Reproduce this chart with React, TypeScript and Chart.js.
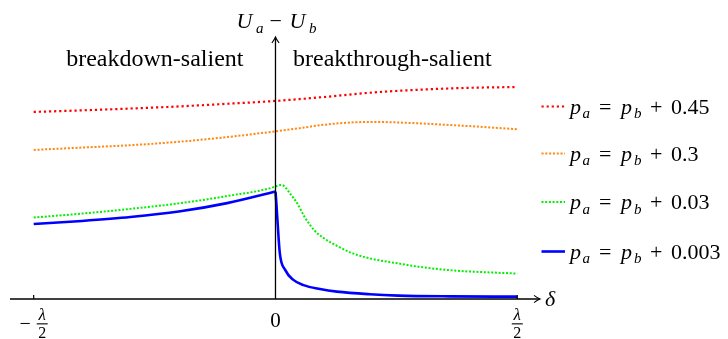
import React, { useEffect, useRef } from "react";
import { Chart, registerables } from "chart.js";

Chart.register(...registerables);

// ---- data (x in units of λ, y in arbitrary units of U_a − U_b) ----
const redX = [-0.5, -0.4, -0.3, -0.2, -0.1, 0, 0.1, 0.2, 0.3, 0.4, 0.5];
const redY = [0.714, 0.72, 0.727, 0.735, 0.745, 0.756, 0.771, 0.788, 0.799, 0.806, 0.809];

const orangeX = [-0.5, -0.4, -0.3, -0.2, -0.1, 0, 0.05, 0.1, 0.15, 0.2, 0.25, 0.3, 0.35, 0.4, 0.45, 0.5];
const orangeY = [0.569, 0.578, 0.587, 0.6, 0.618, 0.64, 0.652, 0.665, 0.673, 0.676, 0.674, 0.67, 0.665, 0.66, 0.654, 0.648];

const greenX = [-0.5, -0.4, -0.3, -0.2, -0.1, 0, 0.006, 0.013, 0.02, 0.03, 0.045, 0.06, 0.08, 0.1, 0.13, 0.16, 0.2, 0.25, 0.3, 0.375, 0.45, 0.5];
const greenY = [0.311, 0.326, 0.344, 0.365, 0.393, 0.429, 0.434, 0.435, 0.427, 0.403, 0.365, 0.314, 0.263, 0.232, 0.2, 0.174, 0.153, 0.137, 0.122, 0.108, 0.101, 0.097];

const blueLeftX = [-0.5, -0.4, -0.3, -0.2, -0.1, 0];
const blueLeftY = [0.286, 0.298, 0.313, 0.334, 0.366, 0.41];
const blueRightX = [0, 0.002, 0.004, 0.009, 0.02, 0.037, 0.058, 0.092, 0.127, 0.195, 0.254, 0.36, 0.5];
const blueRightY = [0.41, 0.36, 0.302, 0.174, 0.111, 0.073, 0.053, 0.038, 0.028, 0.018, 0.013, 0.01, 0.009];

const legendOffsets = ["0.45", "0.3", "0.03", "0.003"];
const tickValues = [-0.5, 0, 0.5];

const RED = "#ff0000";
const ORANGE = "#ff8a14";
const GREEN = "#00f000";
const BLUE = "#0000ff";

const SERIF = "'Liberation Serif'";

const styles = [
  { color: RED, dash: [2.2, 2.9], width: 2.2 },
  { color: ORANGE, dash: [2.1, 1.7], width: 2.0 },
  { color: GREEN, dash: [2.0, 1.7], width: 2.0 },
  { color: BLUE, dash: [] as number[], width: 2.6 },
];

const pts = (xs: number[], ys: number[]) => xs.map((x, i) => ({ x, y: ys[i] }));

function mkDs(data: { x: number; y: number }[], s: { color: string; dash: number[]; width: number }) {
  return {
    data,
    borderColor: s.color,
    backgroundColor: s.color,
    borderWidth: s.width,
    borderDash: s.dash,
    borderCapStyle: "butt" as const,
    pointRadius: 0,
    fill: false,
    cubicInterpolationMode: "monotone" as const,
  };
}

function arrowHead(ctx: CanvasRenderingContext2D, tx: number, ty: number, dir: "right" | "up") {
  ctx.beginPath();
  if (dir === "right") {
    ctx.moveTo(tx - 6, ty - 3.6);
    ctx.quadraticCurveTo(tx - 2.2, ty - 0.8, tx, ty);
    ctx.quadraticCurveTo(tx - 2.2, ty + 0.8, tx - 6, ty + 3.6);
  } else {
    ctx.moveTo(tx - 3.6, ty + 6);
    ctx.quadraticCurveTo(tx - 0.8, ty + 2.2, tx, ty);
    ctx.quadraticCurveTo(tx + 0.8, ty + 2.2, tx + 3.6, ty + 6);
  }
  ctx.stroke();
}

function txt(ctx: CanvasRenderingContext2D, s: string, x: number, y: number, size: number, italic = false, align: CanvasTextAlign = "left") {
  ctx.font = italic ? `italic ${size}px ${SERIF}` : `${size}px ${SERIF}`;
  ctx.textAlign = align;
  ctx.textBaseline = "alphabetic";
  ctx.fillText(s, x, y);
}

function frac(ctx: CanvasRenderingContext2D, cx: number) {
  txt(ctx, "λ", cx, 319.5, 17, true, "center");
  ctx.fillRect(cx - 5.5, 323.3, 11, 1.1);
  txt(ctx, "2", cx, 338, 16, false, "center");
}

const overlay = {
  id: "overlay",
  beforeDraw(chart: any) {
    const ctx = chart.ctx;
    ctx.save();
    ctx.fillStyle = "#fff";
    ctx.fillRect(0, 0, chart.width, chart.height);
    ctx.restore();
  },
  afterDatasetsDraw(chart: any) {
    const { ctx, chartArea } = chart;
    const xs = chart.scales.x;
    const ys = chart.scales.y;
    const x0 = xs.getPixelForValue(0);
    const y0 = ys.getPixelForValue(0);
    const xl = chartArea.left;
    const xr = chartArea.right;
    const yt = chartArea.top;
    ctx.save();
    ctx.strokeStyle = "#000";
    ctx.fillStyle = "#000";
    ctx.lineWidth = 1.3;
    ctx.beginPath();
    ctx.moveTo(xl, y0);
    ctx.lineTo(xr - 0.5, y0);
    ctx.stroke();
    ctx.beginPath();
    ctx.moveTo(x0, y0);
    ctx.lineTo(x0, yt + 0.5);
    ctx.stroke();
    ctx.lineWidth = 1.1;
    arrowHead(ctx, xr, y0, "right");
    arrowHead(ctx, x0, yt, "up");
    ctx.lineWidth = 1.2;
    tickValues.forEach((v) => {
      if (v === 0) return;
      const px = xs.getPixelForValue(v);
      ctx.beginPath();
      ctx.moveTo(px, y0);
      ctx.lineTo(px, y0 - 4);
      ctx.stroke();
    });
    const pl = xs.getPixelForValue(tickValues[0]);
    const pr = xs.getPixelForValue(tickValues[2]);
    txt(ctx, "−", pl - 3, 329.5, 20, false, "right");
    frac(ctx, pl + 8.5);
    txt(ctx, "0", x0, 327, 21, false, "center");
    frac(ctx, pr);
    txt(ctx, "δ", xr + 5, y0 + 7, 22, true);
    const ly = yt - 9;
    txt(ctx, "U", x0 - 39, ly, 22, true);
    txt(ctx, "a", x0 - 19.5, ly + 4.5, 15, true);
    txt(ctx, "−", x0 - 6, ly, 22, false);
    txt(ctx, "U", x0 + 14, ly, 22, true);
    txt(ctx, "b", x0 + 33.5, ly + 4.5, 15, true);
    txt(ctx, "breakdown-salient", x0 - 32, 65.5, 24, false, "right");
    txt(ctx, "breakthrough-salient", x0 + 17.5, 65.5, 24, false, "left");

    const rows = [106.5, 153.5, 202, 251.5];
    const lx0 = 541.5;
    const lx1 = 565;
    const tx = 570;
    legendOffsets.forEach((lab, i) => {
      const s = styles[i];
      const yy = rows[i];
      ctx.save();
      ctx.strokeStyle = s.color;
      ctx.lineWidth = s.width;
      ctx.lineCap = "butt";
      ctx.setLineDash(s.dash);
      ctx.beginPath();
      ctx.moveTo(lx0, yy);
      ctx.lineTo(lx1, yy);
      ctx.stroke();
      ctx.restore();
      const bl = yy + 7;
      txt(ctx, "p", tx, bl, 22, true);
      txt(ctx, "a", tx + 12.5, bl + 4.5, 15, true);
      txt(ctx, "=", tx + 29, bl, 22, false);
      txt(ctx, "p", tx + 51, bl, 22, true);
      txt(ctx, "b", tx + 64, bl + 4.5, 15, true);
      txt(ctx, "+", tx + 80, bl, 22, false);
      txt(ctx, lab, tx + 101, bl, 22, false);
    });
    ctx.restore();
  },
};

export default function App() {
  const ref = useRef<HTMLCanvasElement>(null);
  useEffect(() => {
    if (!ref.current) return;
    const chart = new Chart(ref.current, {
      type: "line",
      data: {
        datasets: [
          mkDs(pts(redX, redY), styles[0]),
          mkDs(pts(orangeX, orangeY), styles[1]),
          mkDs(pts(greenX, greenY), styles[2]),
          mkDs(pts(blueLeftX, blueLeftY), styles[3]),
          mkDs(pts(blueRightX, blueRightY), styles[3]),
        ],
      },
      options: {
        animation: false,
        responsive: false,
        devicePixelRatio: 1,
        layout: { padding: { left: 10, right: 188, top: 37, bottom: 40 } },
        plugins: { legend: { display: false }, tooltip: { enabled: false } },
        scales: {
          x: { type: "linear", min: -0.549, max: 0.547, display: false },
          y: { type: "linear", min: 0, max: 1, display: false },
        },
        events: [],
      },
      plugins: [overlay],
    } as any);
    return () => chart.destroy();
  }, []);
  return (
    <div style={{ position: "fixed", left: 0, top: 0, width: 728, height: 339, background: "#fff" }}>
      <canvas ref={ref} width={728} height={339} style={{ display: "block", width: 728, height: 339 }} />
    </div>
  );
}
